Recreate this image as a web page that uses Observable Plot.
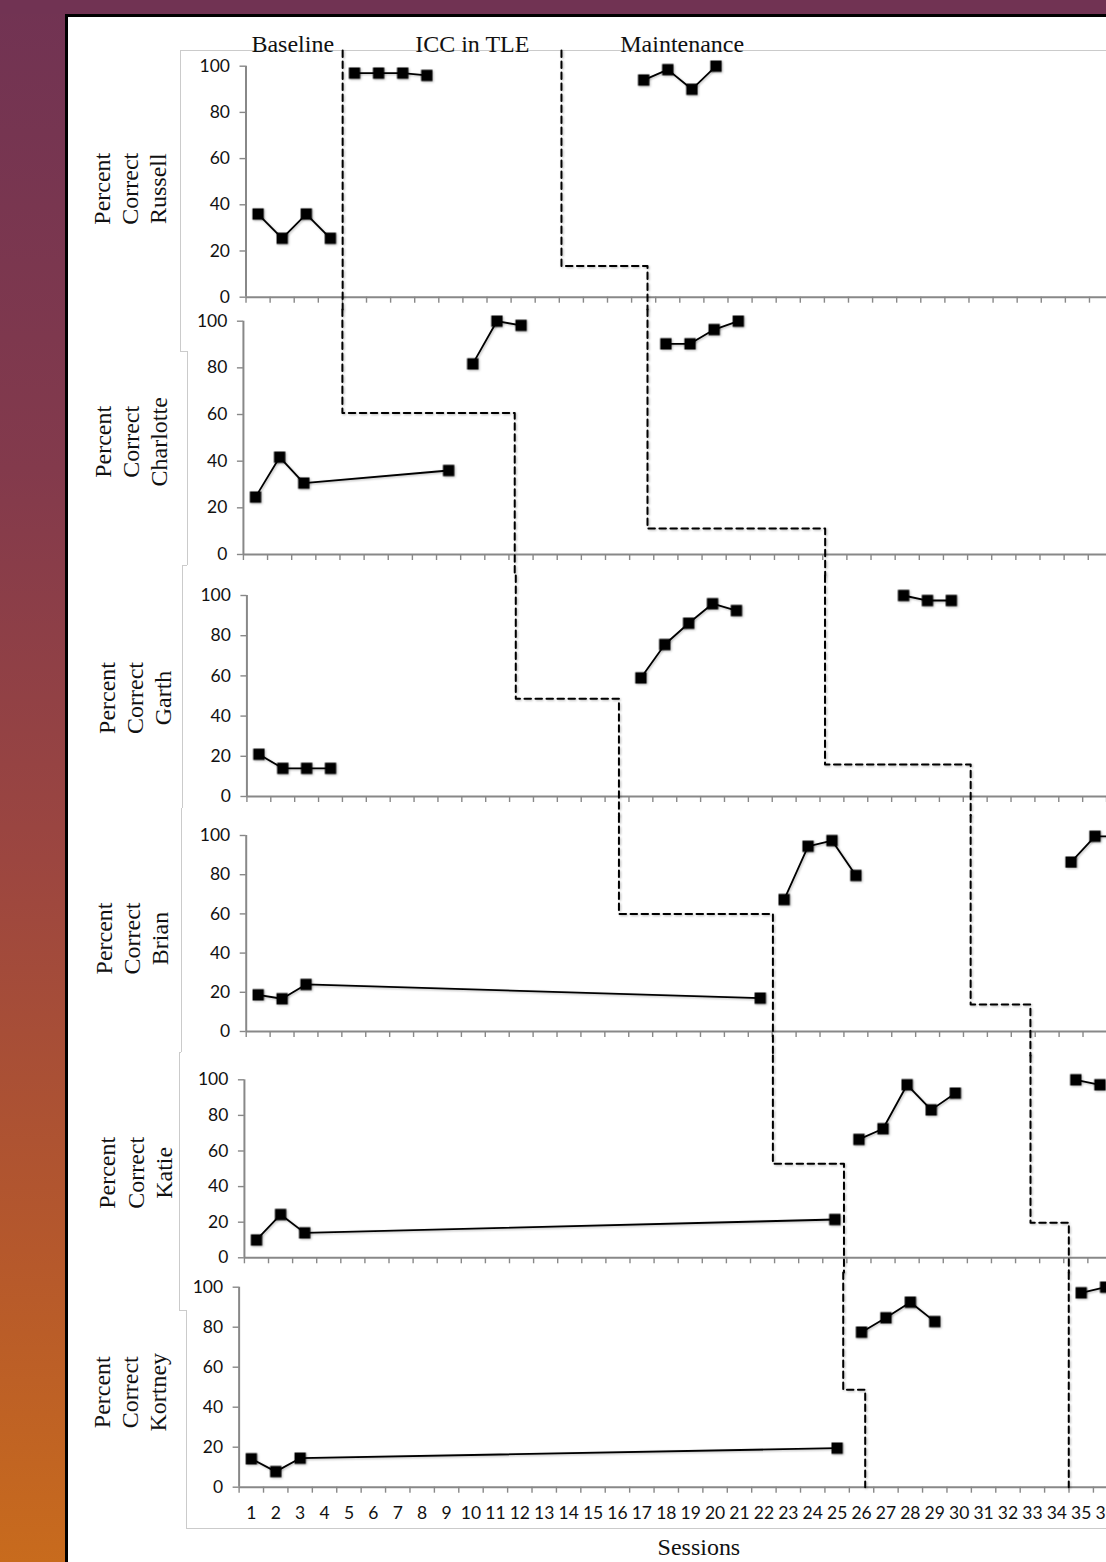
<!DOCTYPE html>
<html>
<head>
<meta charset="utf-8">
<script src="https://cdn.jsdelivr.net/npm/d3@7"></script>
<script src="https://cdn.jsdelivr.net/npm/@observablehq/plot@0.6"></script>
<style>
html, body { margin: 0; padding: 0; width: 1106px; height: 1562px; overflow: hidden; background: #fff; }
#page { position: relative; width: 1106px; height: 1562px; overflow: hidden; background: #fff; }
#leftband { position: absolute; left: 0; top: 0; width: 65px; height: 1562px;
  background: linear-gradient(#713353 0%, #833a4c 30%, #9c4640 55%, #b5582c 80%, #c86b1d 100%); }
#topband { position: absolute; left: 0; top: 0; width: 1106px; height: 14px; background: #713353; }
#frameV { position: absolute; left: 65px; top: 14px; width: 3px; height: 1548px; background: #000; }
#frameH { position: absolute; left: 65px; top: 14px; width: 1041px; height: 2.5px; background: #000; }
.bd { position: absolute; background: #cbcbcb; }
svg [aria-label="dot"], svg [aria-label="line"] { filter: drop-shadow(1.2px 1.5px 1px rgba(0,0,0,0.28)); }
</style>
</head>
<body>
<div id="page">
  <div id="leftband"></div>
  <div id="topband"></div>
  <div id="frameV"></div>
  <div id="frameH"></div>
</div>
<script>
// ---------------- DATA ----------------
const names = ["Russell", "Charlotte", "Garth", "Brian", "Katie", "Kortney"];

const sessionsRussell = [1, 2, 3, 4, 5, 6, 7, 8, 17, 18, 19, 20];
const pctRussell      = [36, 25.5, 36, 25.5, 97, 97, 97, 96, 94, 98.5, 90, 100];
const phaseRussell    = ["B","B","B","B","I","I","I","I","M","M","M","M"];

const sessionsCharlotte = [1, 2, 3, 9, 10, 11, 12, 18, 19, 20, 21];
const pctCharlotte      = [24.6, 41.7, 30.6, 36, 81.7, 100, 98.2, 90.3, 90.3, 96.4, 100];
const phaseCharlotte    = ["B","B","B","B","I","I","I","M","M","M","M"];

const sessionsGarth = [1, 2, 3, 4, 17, 18, 19, 20, 21, 28, 29, 30];
const pctGarth      = [21, 14, 14, 14, 59, 75.6, 86.2, 95.9, 92.5, 100, 97.5, 97.5];
const phaseGarth    = ["B","B","B","B","I","I","I","I","I","M","M","M"];

const sessionsBrian = [1, 2, 3, 22, 23, 24, 25, 26, 35, 36, 37];
const pctBrian      = [18.7, 16.7, 24, 17, 67.3, 94.5, 97.4, 79.6, 86.4, 99.6, 99.6];
const phaseBrian    = ["B","B","B","B","I","I","I","I","M","M","M"];

const sessionsKatie = [1, 2, 3, 25, 26, 27, 28, 29, 30, 35, 36];
const pctKatie      = [10, 24.3, 14, 21.5, 66.5, 72.5, 97.2, 83.1, 92.5, 100, 97.2];
const phaseKatie    = ["B","B","B","B","I","I","I","I","I","M","M"];

const sessionsKortney = [1, 2, 3, 25, 26, 27, 28, 29, 35, 36];
const pctKortney      = [14.2, 7.8, 14.5, 19.5, 77.5, 84.7, 92.5, 82.8, 97.2, 100];
const phaseKortney    = ["B","B","B","B","I","I","I","I","M","M"];

// phase-change lines (session position where the line enters each panel, step level, exit position)
const iccLineEnter   = [4.51, 4.6, 11.76, 16.09, 22.43, 25.25];
const iccLineStep    = [null, 60.6, 48.6, 60, 52.8, 48.7];
const iccLineExit    = [4.51, 11.74, 16.08, 22.53, 25.38, 26.15];
const maintLineEnter = [13.59, 17.24, 24.71, 30.8, 33.12, 34.49];
const maintLineStep  = [13.5, 11.1, 15.9, 13.8, 19.7, null];
const maintLineExit  = [17.16, 24.6, 30.81, 33.3, 34.71, 34.49];

const phaseLabels = ["Baseline", "ICC in TLE", "Maintenance"];
const phaseLabelSessions = [2.44, 9.89, 18.6];

const yTicks = [0, 20, 40, 60, 80, 100];
const xTickLabels = d3.range(1, 39);
const xLabel = "Sessions";

// ---------------- LAYOUT ----------------
const panelY100  = [65.7, 320.7, 595, 835, 1079.3, 1286.7];
const panelY0    = [296.7, 554, 796, 1031, 1257.3, 1486.7];
const panelAxisX = [245.5, 242.9, 246.4, 245.7, 243.9, 238.6];
const panelStep  = [24.1, 24.14, 23.88, 23.91, 24.1, 24.41];
const bounds     = [17, 309, 575, 815, 1055, 1272, 1562];
const titleX     = [128.5, 129.5, 133.5, 130.5, 134, 128.5];
const titleDy    = [7, 4, 2, 5, 4, 5];
const lineTopY   = 50;
const nCats = 38;
const gray = "#888888";
const ink = "#111111";

// chart-object border segments (decoration)
const borderSegs = [
  [180, 50, 1106, 50], [180, 50, 180, 351], [180, 351, 187, 351], [187, 351, 187, 565],
  [182, 565, 187, 565], [182, 565, 182, 808], [181, 808, 182, 808], [181, 808, 181, 1052],
  [179, 1052, 181, 1052], [179, 1052, 179, 1310], [179, 1310, 186, 1310], [186, 1310, 186, 1528],
  [186, 1528, 1106, 1528]
];

const page = document.getElementById("page");
for (const [x1, y1, x2, y2] of borderSegs) {
  const d = document.createElement("div");
  d.className = "bd";
  d.style.left = Math.min(x1, x2) + "px";
  d.style.top = Math.min(y1, y2) + "px";
  d.style.width = Math.max(1, Math.abs(x2 - x1)) + "px";
  d.style.height = Math.max(1, Math.abs(y2 - y1)) + "px";
  page.appendChild(d);
}

const allSessions = [sessionsRussell, sessionsCharlotte, sessionsGarth, sessionsBrian, sessionsKatie, sessionsKortney];
const allPct = [pctRussell, pctCharlotte, pctGarth, pctBrian, pctKatie, pctKortney];
const allPhase = [phaseRussell, phaseCharlotte, phaseGarth, phaseBrian, phaseKatie, phaseKortney];

function phasePath(enter, step, exit, topVal, bottomVal) {
  if (step == null) return [{x: enter, y: topVal}, {x: enter, y: bottomVal}];
  return [{x: enter, y: topVal}, {x: enter, y: step}, {x: exit, y: step}, {x: exit, y: bottomVal}];
}

const serif = "Liberation Serif, Times New Roman, serif";

for (let i = 0; i < 6; i++) {
  const svgTop = bounds[i], svgBottom = bounds[i + 1];
  const k = (panelY0[i] - panelY100[i]) / 100;
  const marginTop = panelY100[i] - svgTop;
  const marginBottom = svgBottom - panelY0[i];
  const marginLeft = panelAxisX[i];
  const width = marginLeft + nCats * panelStep[i] + 2;
  const height = svgBottom - svgTop;
  const topVal = 100 + ((i === 0 ? panelY100[i] - lineTopY : marginTop) / k);
  const bottomVal = i === 5 ? 0 : -marginBottom / k;

  const data = allSessions[i].map((s, j) => ({session: s, pct: allPct[i][j], phase: allPhase[i][j]}));

  const marks = [
    Plot.ruleY([0], {x1: 0.5, x2: nCats + 0.5, stroke: gray, strokeWidth: 2}),
    Plot.ruleX([0.5], {y1: 0, y2: 100, stroke: gray, strokeWidth: 2}),
    Plot.axisX({ticks: d3.range(0.5, nCats + 0.51, 1), tickSize: 6, tickFormat: () => "", stroke: gray, strokeWidth: 1.4, label: null}),
    Plot.axisY({ticks: yTicks, tickSize: 6, tickPadding: 10, stroke: gray, strokeWidth: 1.4, fill: ink, label: null}),
    Plot.line(phasePath(iccLineEnter[i], iccLineStep[i], iccLineExit[i], topVal, bottomVal),
      {x: "x", y: "y", stroke: "#000", strokeWidth: 2, strokeDasharray: "6.5,4.5"}),
    Plot.line(phasePath(maintLineEnter[i], maintLineStep[i], maintLineExit[i], topVal, bottomVal),
      {x: "x", y: "y", stroke: "#000", strokeWidth: 2, strokeDasharray: "6.5,4.5"}),
    Plot.line(data, {x: "session", y: "pct", z: "phase", stroke: "#000", strokeWidth: 1.8}),
    Plot.dot(data, {x: "session", y: "pct", symbol: "square", r: 6.4, fill: "#000", stroke: "none"}),
    Plot.text([`Percent\nCorrect\n${names[i]}`], {
      frameAnchor: "left", dx: titleX[i] - marginLeft, dy: titleDy[i], rotate: -90,
      textAnchor: "middle", lineAnchor: "middle",
      lineHeight: 1.17, fontSize: 24, fontFamily: serif, fill: ink
    })
  ];

  if (i === 0) {
    marks.push(Plot.text(phaseLabels, {
      x: (d, j) => phaseLabelSessions[j], text: d => d, frameAnchor: "top", dy: -21.7,
      textAnchor: "middle", lineAnchor: "middle",
      fontSize: 24, fontFamily: serif, fill: ink
    }));
  }
  if (i === 5) {
    marks.push(Plot.axisX({ticks: xTickLabels, tickSize: 0, tickPadding: 19, fill: ink, label: null}));
    marks.push(Plot.text([xLabel], {
      frameAnchor: "bottom", dx: -4, dy: 60.3, textAnchor: "middle", lineAnchor: "middle",
      fontSize: 24, fontFamily: serif, fill: ink
    }));
  }

  const chart = Plot.plot({
    width, height, marginTop, marginBottom, marginLeft, marginRight: 2,
    x: {domain: [0.5, nCats + 0.5], axis: null},
    y: {domain: [0, 100], axis: null},
    style: {background: "transparent", maxWidth: "none", overflow: "visible",
      fontFamily: "Lato, sans-serif", fontSize: "17.5px", color: ink},
    marks
  });
  chart.style.position = "absolute";
  chart.style.left = "0px";
  chart.style.top = svgTop + "px";
  page.appendChild(chart);
}
</script>
</body>
</html>
